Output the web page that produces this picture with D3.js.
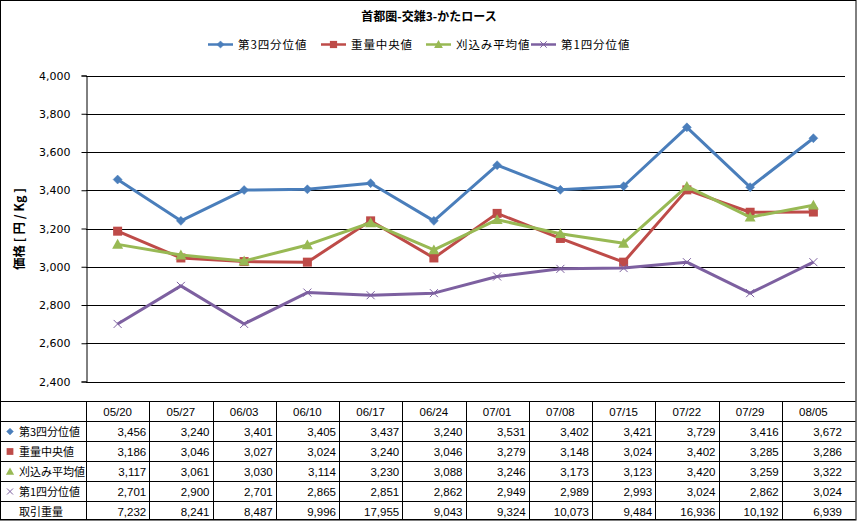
<!DOCTYPE html>
<html><head><meta charset="utf-8">
<script src="https://cdn.jsdelivr.net/npm/d3@7"></script>
<style>
html,body{margin:0;padding:0;background:#fff;}
svg{display:block;}
</style></head>
<body>
<script>
const categories = ["05/20","05/27","06/03","06/10","06/17","06/24","07/01","07/08","07/15","07/22","07/29","08/05"];
const q3 = [3456,3240,3401,3405,3437,3240,3531,3402,3421,3729,3416,3672];
const median = [3186,3046,3027,3024,3240,3046,3279,3148,3024,3402,3285,3286];
const trimmedMean = [3117,3061,3030,3114,3230,3088,3246,3173,3123,3420,3259,3322];
const q1 = [2701,2900,2701,2865,2851,2862,2949,2989,2993,3024,2862,3024];
const volume = [7232,8241,8487,9996,17955,9043,9324,10073,9484,16936,10192,6939];
const yTicks = [2400,2600,2800,3000,3200,3400,3600,3800,4000];
const title = "首都圏-交雑3-かたロース";
const yTitle = "価格 [ 円 / Kg ]";
const volumeLabel = "取引重量";

const series = [
  {name:"第3四分位値", values:q3, color:"#4a7ebb", marker:"diamond"},
  {name:"重量中央値", values:median, color:"#be4b48", marker:"square"},
  {name:"刈込み平均値", values:trimmedMean, color:"#98b954", marker:"triangle"},
  {name:"第1四分位値", values:q1, color:"#7d60a0", marker:"x"}
];

const W = 857, H = 521;
const svg = d3.select("body").append("svg").attr("width", W).attr("height", H);
const jp = "'Noto Sans CJK JP','DejaVu Sans',sans-serif";

// border
svg.append("rect").attr("x",0.5).attr("y",0.5).attr("width",W-1.5).attr("height",H-1.5)
  .attr("fill","#fff").attr("stroke","#000");

const plotL = 86, plotR = 845, plotT = 75.5, plotB = 381.5;
const x = d3.scaleBand().domain(categories).range([plotL, plotR]).padding(0);
const y = d3.scaleLinear().domain([2400,4000]).range([plotB, plotT]);
const cx = c => x(c) + x.bandwidth()/2;

// gridlines
svg.append("g").selectAll("line").data(yTicks).join("line")
  .attr("x1", plotL).attr("x2", plotR)
  .attr("y1", d => Math.round(y(d))+0.5).attr("y2", d => Math.round(y(d))+0.5)
  .attr("stroke","#000").attr("stroke-width",1);

// y axis
const yAxis = d3.axisLeft(y).tickValues(yTicks).tickFormat(d3.format(",")).tickSizeOuter(0).tickSize(5).tickPadding(11);
const gy = svg.append("g").attr("transform",`translate(${plotL+0.5},0)`).call(yAxis);
gy.select(".domain").attr("stroke","#000");
gy.selectAll(".tick line").attr("stroke","#000");
gy.selectAll("text").attr("font-family","'DejaVu Sans',sans-serif").attr("font-size",11).attr("fill","#000");

// y title
svg.append("text").attr("transform",`translate(24,229) rotate(-90)`).attr("text-anchor","middle")
  .attr("font-family",jp).attr("font-weight","bold").attr("font-size",12.5).text(yTitle);

// title
svg.append("text").attr("x",429).attr("y",21).attr("text-anchor","middle")
  .attr("font-family",jp).attr("font-weight","bold").attr("font-size",12).text(title);

function drawMarker(g, type, color, px, py, scale){
  const s = scale||1;
  if(type==="diamond"){
    const r=4.5*s;
    g.append("path").attr("d",`M${px},${py-r}L${px+r},${py}L${px},${py+r}L${px-r},${py}Z`).attr("fill",color).attr("stroke",color).attr("stroke-width",0.5);
  } else if(type==="square"){
    const r=4.5*s;
    g.append("rect").attr("x",px-r).attr("y",py-r).attr("width",2*r).attr("height",2*r).attr("fill",color);
  } else if(type==="triangle"){
    const r=5.5*s;
    g.append("path").attr("d",`M${px},${py-r}L${px+r},${py+r*0.8}L${px-r},${py+r*0.8}Z`).attr("fill",color);
  } else if(type==="x"){
    const r=4*s;
    g.append("path").attr("d",`M${px-r},${py-r}L${px+r},${py+r}M${px-r},${py+r}L${px+r},${py-r}`).attr("stroke",color).attr("stroke-width",1).attr("fill","none");
  }
}

const line = d3.line().x((d,i)=>cx(categories[i])).y(d=>y(d));
series.forEach(s=>{
  const g = svg.append("g");
  g.append("path").attr("d",line(s.values)).attr("fill","none").attr("stroke",s.color).attr("stroke-width",3).attr("stroke-linejoin","round");
  s.values.forEach((v,i)=>drawMarker(g,s.marker,s.color,cx(categories[i]),y(v)));
});

// legend
const legendX = [208, 321, 426, 531];
series.forEach((s,i)=>{
  const g = svg.append("g");
  const lx = legendX[i], ly = 44.5;
  g.append("line").attr("x1",lx).attr("x2",lx+25).attr("y1",ly).attr("y2",ly).attr("stroke",s.color).attr("stroke-width",2.5);
  drawMarker(g,s.marker,s.color,lx+12.5,ly,0.8);
  g.append("text").attr("x",lx+30).attr("y",ly+4.5).attr("font-family",jp).attr("font-size",11.5)
    .attr("letter-spacing",0.9).attr("fill","#000").text(s.name);
});

// table
const rowTop = 401.5, rowH = 20, tableR = 855.5;
const rows = series.map(s=>({name:s.name, values:s.values, marker:s.marker, color:s.color}))
  .concat([{name:volumeLabel, values:volume, marker:null}]);
const tg = svg.append("g");
for(let r=0;r<=rows.length+1;r++){
  const yy = Math.min(rowTop + r*rowH, H-1.5);
  tg.append("line").attr("x1",0).attr("x2",tableR).attr("y1",yy).attr("y2",yy).attr("stroke","#000");
}
const colEdges = categories.map(c=>x(c));
colEdges.forEach(e=>{
  tg.append("line").attr("x1",Math.round(e)+0.5).attr("x2",Math.round(e)+0.5).attr("y1",rowTop).attr("y2",H-1.5).attr("stroke","#000");
});
const tfont = "'Liberation Sans','Noto Sans CJK JP',sans-serif";
categories.forEach(c=>{
  tg.append("text").attr("x",cx(c)).attr("y",rowTop+14.5).attr("text-anchor","middle")
    .attr("font-family",tfont).attr("font-size",11.5).text(c);
});
const fmt = d3.format(",");
rows.forEach((row,r)=>{
  const ty = rowTop + (r+1)*rowH + 14.5;
  if(row.marker) drawMarker(tg,row.marker,row.color,10,ty-4.5,0.75);
  tg.append("text").attr("x",19).attr("y",ty).attr("font-family",jp).attr("font-size",11).text(row.name);
  row.values.forEach((v,i)=>{
    tg.append("text").attr("x",x(categories[i])+x.bandwidth()-3).attr("y",ty).attr("text-anchor","end")
      .attr("font-family",tfont).attr("font-size",11.5).text(fmt(v));
  });
});
</script>
</body></html>
